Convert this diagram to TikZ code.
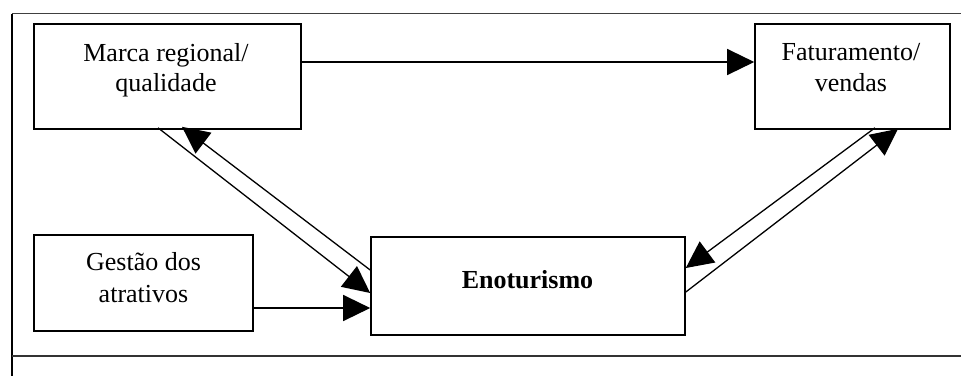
\documentclass[tikz,border=0pt]{standalone}
\usepackage{fontspec}
\setmainfont{Liberation Serif}
\usetikzlibrary{arrows.meta}
\tikzset{
  boxnode/.style={draw=black, line width=1.6pt, minimum width=#1, inner sep=0pt},
  txt/.style={anchor=base, inner sep=0pt, font=\fontsize{26}{30}\selectfont},
  conn/.style={line width=1.3pt, -{Triangle[length=27pt,width=26pt]}},
  frame/.style={line width=1.6pt}
}
\begin{document}
\begin{tikzpicture}[x=1pt,y=-1pt]
\useasboundingbox (0,0) rectangle (961,376);
% outer frame
\coordinate (ftl) at (12,13.5);
\coordinate (ftr) at (961,13.5);
\coordinate (fbl) at (12,376);
\coordinate (sl) at (12,356);
\coordinate (sr) at (961,356);
\draw[frame, black!75] (ftl) -- (ftr);
\draw[frame] (ftl) -- (fbl);
\draw[frame, black!80] (sl) -- (sr);
% boxes
\node[boxnode=267pt, minimum height=105pt] (marca) at (167.5,76.5) {};
\node[boxnode=195pt, minimum height=105pt] (fat) at (852.5,76.5) {};
\node[boxnode=219pt, minimum height=96pt] (gest) at (143.5,283) {};
\node[boxnode=314pt, minimum height=98pt] (eno) at (528,286) {};
% texts
\node[txt] (marcaA) at (166,61) {Marca regional/};
\node[txt] (marcaB) at (166,91) {qualidade};
\node[txt] (fatA) at (851,60) {Faturamento/};
\node[txt] (fatB) at (851,91) {vendas};
\node[txt] (gestA) at (143.5,270) {Gestão dos};
\node[txt] (gestB) at (143.5,302) {atrativos};
\node[txt, font=\fontsize{26}{30}\selectfont\bfseries] (enoT) at (527.5,288) {Enoturismo};
% connectors
\draw[conn] ([yshift=14.5pt]marca.east) -- ([yshift=14.5pt]fat.west);
\draw[conn] ([yshift=-25pt]gest.east) -- ([yshift=-25pt]gest.east -| eno.west);
\draw[conn] ([xshift=-9.5pt,yshift=2pt]marca.south) -- ([yshift=-7pt]eno.west);
\draw[conn] ([yshift=16pt]eno.west) -- ([xshift=14.5pt,yshift=3pt]marca.south);
\draw[conn] ([xshift=22.5pt,yshift=2pt]fat.south) -- ([yshift=18pt]eno.east);
\draw[conn] ([yshift=-6pt]eno.east) -- ([xshift=45.5pt,yshift=1pt]fat.south);
\end{tikzpicture}
\end{document}
